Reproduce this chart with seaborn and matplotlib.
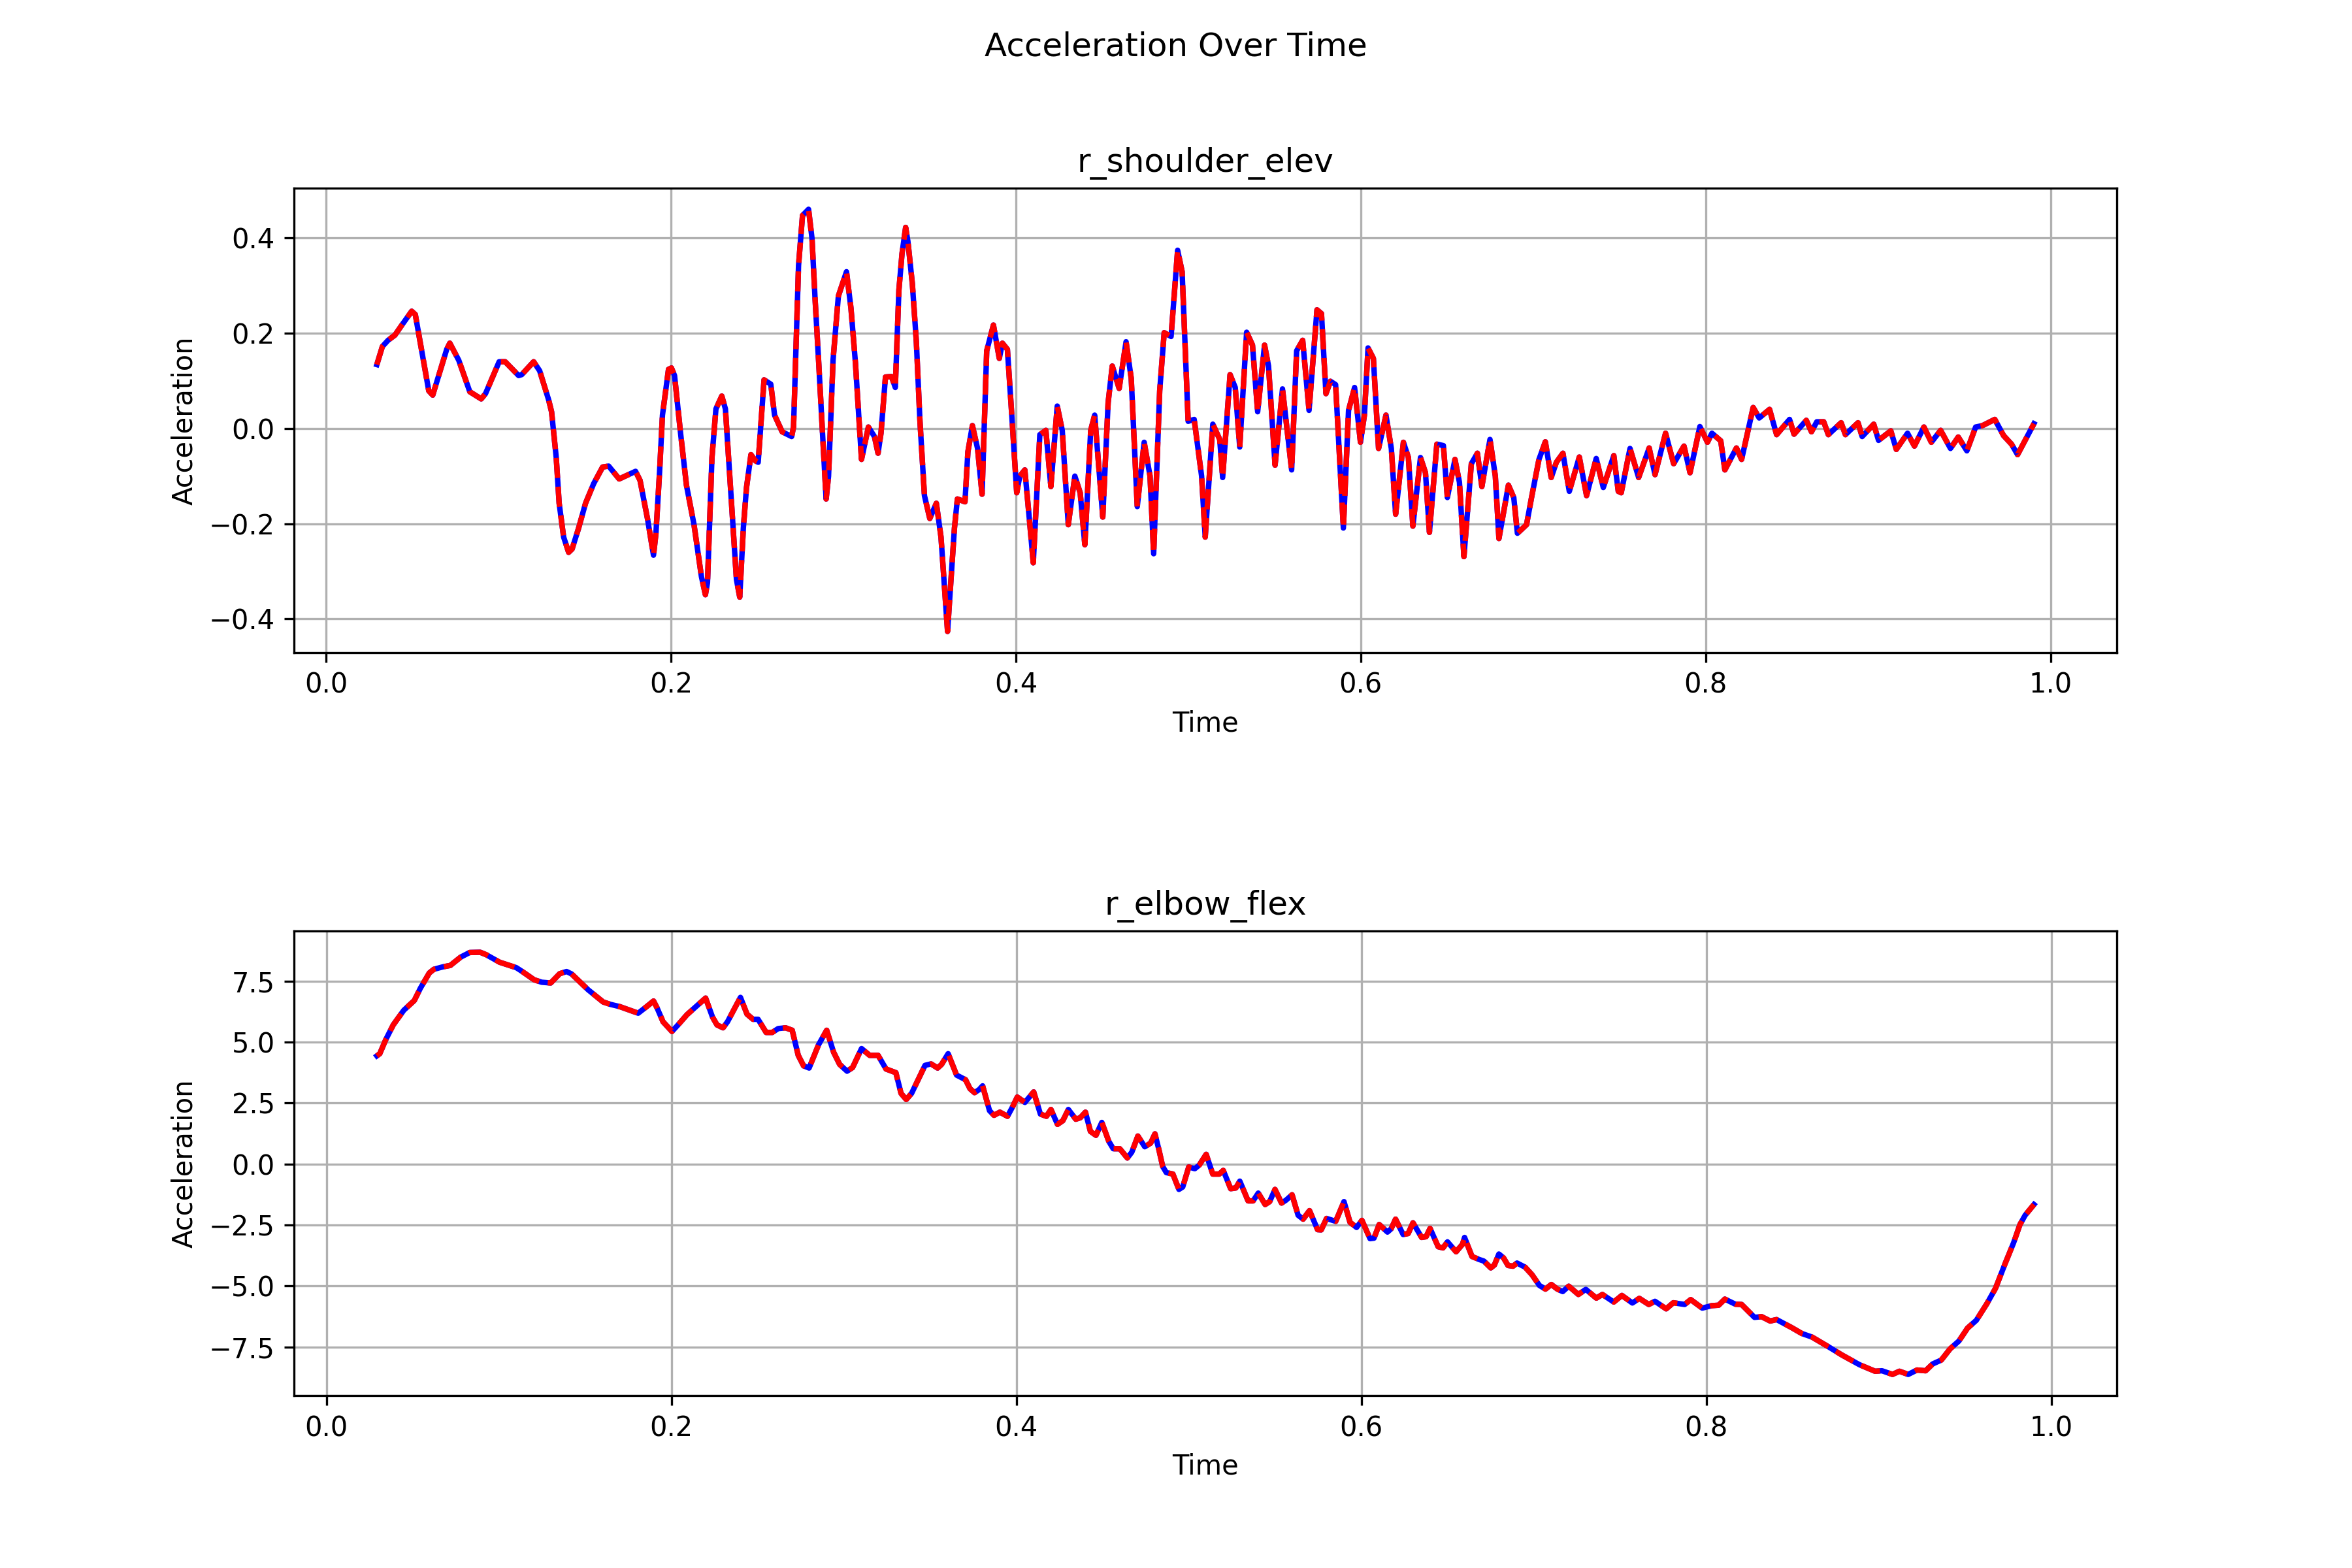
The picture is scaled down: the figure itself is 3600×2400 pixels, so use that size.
import matplotlib
matplotlib.use("Agg")
import matplotlib.pyplot as plt
import seaborn as sns
import pandas as pd

# ---- data: r_shoulder_elev ----
shoulder_time = [
    0.0295, 0.0327, 0.036, 0.040, 0.044, 0.0497, 0.0518, 0.0596, 0.0619, 0.070,
    0.0718, 0.077, 0.0834, 0.090, 0.0925, 0.1004, 0.1039, 0.1117, 0.1135, 0.1204,
    0.1239, 0.1291, 0.1308, 0.1335, 0.1352, 0.1378, 0.1407, 0.1427, 0.1465, 0.1505,
    0.1552, 0.1604, 0.1639, 0.170, 0.1795, 0.1821, 0.1864, 0.1899, 0.1913, 0.1934,
    0.1951, 0.1986, 0.2003, 0.2021, 0.2056, 0.209, 0.2134, 0.2177, 0.220, 0.2212,
    0.2238, 0.2261, 0.2295, 0.2316, 0.238, 0.2399, 0.242, 0.2438, 0.2464, 0.249,
    0.2506, 0.254, 0.2579, 0.2601, 0.2645, 0.270, 0.2711, 0.274, 0.2763, 0.2798,
    0.2818, 0.2836, 0.2858, 0.2879, 0.290, 0.2914, 0.294, 0.2971, 0.3018, 0.3044,
    0.307, 0.3105, 0.3145, 0.318, 0.3201, 0.3218, 0.3244, 0.3279, 0.3301, 0.3322,
    0.334, 0.3361, 0.3374, 0.340, 0.3423, 0.3444, 0.347, 0.3501, 0.3539, 0.3566,
    0.3604, 0.3618, 0.3644, 0.3661, 0.3705, 0.3722, 0.3748, 0.3778, 0.3804, 0.3831,
    0.387, 0.3904, 0.3922, 0.3951, 0.3974, 0.4005, 0.4023, 0.4052, 0.4078, 0.4101,
    0.4139, 0.4174, 0.4203, 0.424, 0.4269, 0.4304, 0.4342, 0.4373, 0.440, 0.4434,
    0.4457, 0.4504, 0.4535, 0.4559, 0.4599, 0.4639, 0.4669, 0.4704, 0.4744, 0.4778,
    0.4799, 0.4834, 0.486, 0.490, 0.4938, 0.4964, 0.4999, 0.5034, 0.5077, 0.5098,
    0.5142, 0.5182, 0.5199, 0.5242, 0.5272, 0.5298, 0.5338, 0.5372, 0.5402, 0.5442,
    0.5465, 0.5503, 0.5546, 0.5599, 0.5628, 0.5663, 0.570, 0.5746, 0.5772, 0.5798,
    0.5824, 0.5854, 0.5899, 0.5929, 0.5964, 0.5998, 0.6021, 0.6042, 0.6073, 0.6103,
    0.6146, 0.6177, 0.6202, 0.6247, 0.6276, 0.6302, 0.6346, 0.6375, 0.6398, 0.6441,
    0.6479, 0.6502, 0.6546, 0.6572, 0.6598, 0.6641, 0.6676, 0.6702, 0.6749, 0.678,
    0.6801, 0.6856, 0.6887, 0.6908, 0.6961, 0.699, 0.7033, 0.707, 0.7104, 0.7134,
    0.7172, 0.7209, 0.7267, 0.7309, 0.7365, 0.7406, 0.7467, 0.7493, 0.751, 0.7561,
    0.7611, 0.7672, 0.7706, 0.7767, 0.7814, 0.7874, 0.7909, 0.7966, 0.801, 0.8036,
    0.8087, 0.8111, 0.8178, 0.8208, 0.8275, 0.831, 0.837, 0.8411, 0.8486, 0.8512,
    0.8583, 0.8613, 0.8644, 0.8684, 0.8711, 0.8785, 0.881, 0.8883, 0.8907, 0.8974,
    0.9002, 0.9073, 0.9105, 0.917, 0.921, 0.9265, 0.9308, 0.9362, 0.9419, 0.9464,
    0.9514, 0.9565, 0.9605, 0.9676, 0.9727, 0.9773, 0.9808, 0.9903,
]
shoulder_acc = [
    0.134, 0.172, 0.185, 0.196, 0.217, 0.246, 0.239, 0.079, 0.070, 0.166,
    0.179, 0.143, 0.077, 0.062, 0.073, 0.140, 0.140, 0.111, 0.113, 0.140,
    0.121, 0.060, 0.035, -0.061, -0.157, -0.228, -0.260, -0.253, -0.209, -0.157,
    -0.116, -0.081, -0.079, -0.106, -0.090, -0.109, -0.189, -0.266, -0.221, -0.093,
    0.028, 0.124, 0.127, 0.111, -0.010, -0.119, -0.202, -0.311, -0.349, -0.324,
    -0.061, 0.041, 0.068, 0.041, -0.317, -0.354, -0.209, -0.125, -0.055, -0.068,
    -0.071, 0.102, 0.093, 0.028, -0.007, -0.017, 0.003, 0.342, 0.447, 0.460,
    0.399, 0.271, 0.131, -0.010, -0.148, -0.100, 0.143, 0.278, 0.329, 0.252,
    0.137, -0.065, 0.003, -0.017, -0.052, -0.010, 0.108, 0.109, 0.086, 0.291,
    0.367, 0.422, 0.393, 0.303, 0.182, 0.015, -0.141, -0.189, -0.157, -0.228,
    -0.426, -0.349, -0.209, -0.148, -0.154, -0.049, 0.006, -0.042, -0.138, 0.163,
    0.217, 0.147, 0.179, 0.166, 0.041, -0.135, -0.100, -0.087, -0.189, -0.282,
    -0.013, -0.004, -0.122, 0.047, -0.004, -0.202, -0.100, -0.135, -0.244, -0.004,
    0.028, -0.186, 0.054, 0.131, 0.084, 0.182, 0.105, -0.164, -0.029, -0.100,
    -0.263, 0.079, 0.201, 0.193, 0.374, 0.329, 0.015, 0.019, -0.100, -0.228,
    0.009, -0.023, -0.103, 0.113, 0.086, -0.039, 0.202, 0.175, 0.035, 0.175,
    0.131, -0.077, 0.083, -0.087, 0.163, 0.185, 0.038, 0.249, 0.241, 0.073,
    0.099, 0.092, -0.209, 0.038, 0.086, -0.029, 0.028, 0.169, 0.147, -0.042,
    0.028, -0.042, -0.180, -0.029, -0.061, -0.205, -0.061, -0.093, -0.218, -0.033,
    -0.036, -0.145, -0.065, -0.113, -0.269, -0.074, -0.052, -0.122, -0.023, -0.100,
    -0.231, -0.119, -0.145, -0.220, -0.202, -0.145, -0.065, -0.028, -0.103, -0.071,
    -0.052, -0.132, -0.060, -0.141, -0.063, -0.124, -0.057, -0.132, -0.135, -0.042,
    -0.103, -0.041, -0.097, -0.010, -0.074, -0.037, -0.093, 0.004, -0.029, -0.010,
    -0.026, -0.087, -0.041, -0.065, 0.044, 0.022, 0.040, -0.013, 0.019, -0.012,
    0.017, -0.007, 0.014, 0.014, -0.013, 0.012, -0.013, 0.012, -0.017, 0.009,
    -0.025, -0.005, -0.044, -0.010, -0.037, 0.003, -0.029, -0.004, -0.042, -0.018,
    -0.047, 0.003, 0.006, 0.019, -0.015, -0.033, -0.055, 0.010,
]

# ---- data: r_elbow_flex ----
elbow_time = [
    0.0292, 0.0309, 0.0344, 0.0387, 0.0448, 0.0509, 0.0544, 0.0596, 0.0622, 0.0674,
    0.0718, 0.0778, 0.083, 0.0891, 0.0926, 0.1004, 0.110, 0.1135, 0.1204, 0.1248,
    0.130, 0.1352, 0.1392, 0.1421, 0.1517, 0.1604, 0.1647, 0.170, 0.1807, 0.1856,
    0.1896, 0.1917, 0.1951, 0.2003, 0.2038, 0.209, 0.2142, 0.2198, 0.2238, 0.2264,
    0.2299, 0.2325, 0.240, 0.2438, 0.2473, 0.2502, 0.2549, 0.2584, 0.2619, 0.2662,
    0.270, 0.2735, 0.2766, 0.2798, 0.2853, 0.290, 0.294, 0.2975, 0.3018, 0.305,
    0.3102, 0.3149, 0.3198, 0.3244, 0.3301, 0.3331, 0.3361, 0.3392, 0.347, 0.3505,
    0.3543, 0.3566, 0.3604, 0.3653, 0.3705, 0.3731, 0.3757, 0.3783, 0.3804, 0.3844,
    0.387, 0.3904, 0.3948, 0.3974, 0.4005, 0.4049, 0.410, 0.4139, 0.4174, 0.420,
    0.4238, 0.4269, 0.4301, 0.4344, 0.437, 0.440, 0.4429, 0.4461, 0.4495, 0.4535,
    0.4561, 0.4599, 0.4643, 0.4669, 0.4704, 0.4744, 0.4778, 0.4803, 0.4826, 0.4848,
    0.4869, 0.4907, 0.4942, 0.4964, 0.4999, 0.5034, 0.506, 0.510, 0.5138, 0.5176,
    0.5199, 0.5242, 0.5272, 0.5295, 0.5343, 0.5372, 0.5402, 0.5442, 0.5468, 0.5499,
    0.5537, 0.5563, 0.5598, 0.5633, 0.5662, 0.5699, 0.5746, 0.5767, 0.5798, 0.5851,
    0.5899, 0.5934, 0.5972, 0.6003, 0.605, 0.6073, 0.6103, 0.6151, 0.6172, 0.6198,
    0.6242, 0.6271, 0.6299, 0.6349, 0.6375, 0.6398, 0.6445, 0.6473, 0.6499, 0.6549,
    0.6586, 0.6598, 0.6641, 0.6681, 0.671, 0.675, 0.6771, 0.6797, 0.6824, 0.685,
    0.6879, 0.6902, 0.6949, 0.6989, 0.7032, 0.7067, 0.7101, 0.7136, 0.7167, 0.7202,
    0.7258, 0.7301, 0.7362, 0.7397, 0.7463, 0.751, 0.7571, 0.7611, 0.7666, 0.7702,
    0.7767, 0.7808, 0.7874, 0.7909, 0.7976, 0.803, 0.8071, 0.8107, 0.8168, 0.8204,
    0.8279, 0.832, 0.837, 0.8407, 0.8492, 0.8553, 0.8613, 0.8704, 0.8785, 0.8887,
    0.8978, 0.9018, 0.9079, 0.9119, 0.917, 0.9221, 0.9271, 0.9312, 0.9362, 0.9413,
    0.9464, 0.9514, 0.9565, 0.9626, 0.9676, 0.9731, 0.9781, 0.9818, 0.9848, 0.9899,
]
elbow_acc = [
    4.44, 4.53, 5.11, 5.71, 6.31, 6.71, 7.21, 7.84, 7.99, 8.09,
    8.15, 8.49, 8.68, 8.69, 8.59, 8.28, 8.06, 7.90, 7.56, 7.46,
    7.43, 7.81, 7.90, 7.80, 7.15, 6.65, 6.55, 6.46, 6.19, 6.46,
    6.69, 6.40, 5.84, 5.44, 5.71, 6.13, 6.46, 6.81, 6.03, 5.71,
    5.59, 5.84, 6.84, 6.15, 5.94, 5.94, 5.40, 5.40, 5.56, 5.59,
    5.49, 4.46, 4.03, 3.94, 4.90, 5.49, 4.59, 4.09, 3.81, 3.96,
    4.74, 4.46, 4.46, 3.90, 3.75, 2.90, 2.65, 2.90, 4.05, 4.11,
    3.94, 4.09, 4.53, 3.65, 3.46, 3.09, 2.93, 3.05, 3.21, 2.19,
    2.00, 2.13, 1.96, 2.30, 2.75, 2.53, 2.96, 2.05, 1.96, 2.24,
    1.63, 1.78, 2.24, 1.84, 1.90, 2.13, 1.34, 1.18, 1.71, 0.94,
    0.63, 0.63, 0.25, 0.49, 1.15, 0.71, 0.86, 1.24, 0.59, -0.10,
    -0.35, -0.41, -1.04, -0.94, -0.12, -0.19, -0.04, 0.40, -0.41, -0.41,
    -0.26, -1.01, -0.98, -0.70, -1.51, -1.51, -1.19, -1.66, -1.54, -1.04,
    -1.60, -1.48, -1.26, -2.10, -2.26, -1.91, -2.69, -2.70, -2.23, -2.35,
    -1.54, -2.39, -2.60, -2.31, -3.06, -3.04, -2.48, -2.79, -2.66, -2.26,
    -2.89, -2.85, -2.41, -3.01, -2.98, -2.64, -3.39, -3.44, -3.19, -3.60,
    -3.29, -3.01, -3.79, -3.91, -3.98, -4.26, -4.14, -3.69, -3.85, -4.16,
    -4.19, -4.06, -4.23, -4.54, -4.98, -5.13, -4.94, -5.13, -5.23, -5.01,
    -5.35, -5.14, -5.50, -5.35, -5.66, -5.39, -5.70, -5.51, -5.76, -5.63,
    -5.94, -5.69, -5.76, -5.56, -5.91, -5.81, -5.79, -5.54, -5.75, -5.76,
    -6.29, -6.26, -6.44, -6.38, -6.70, -6.95, -7.10, -7.48, -7.83, -8.23,
    -8.50, -8.48, -8.63, -8.50, -8.63, -8.45, -8.48, -8.20, -8.04, -7.58,
    -7.26, -6.73, -6.41, -5.73, -5.10, -4.10, -3.23, -2.48, -2.10, -1.66,
]

panel_titles = ["r_shoulder_elev", "r_elbow_flex"]
suptitle = "Acceleration Over Time"

panels = [
    pd.DataFrame({"Time": shoulder_time, "Acceleration": shoulder_acc}),
    pd.DataFrame({"Time": elbow_time, "Acceleration": elbow_acc}),
]

fig, axes = plt.subplots(2, 1, figsize=(12, 8), dpi=300)
plt.subplots_adjust(hspace=0.6)

for ax, df, title in zip(axes, panels, panel_titles):
    sns.lineplot(data=df, x="Time", y="Acceleration", ax=ax,
                 color="blue", linewidth=2, linestyle="-")
    sns.lineplot(data=df, x="Time", y="Acceleration", ax=ax,
                 color="red", linewidth=2, linestyle="--")
    ax.set_title(title)
    ax.set_xlabel("Time")
    ax.set_ylabel("Acceleration")
    ax.grid(True)

fig.suptitle(suptitle)
fig.savefig("out.png", dpi=300)
